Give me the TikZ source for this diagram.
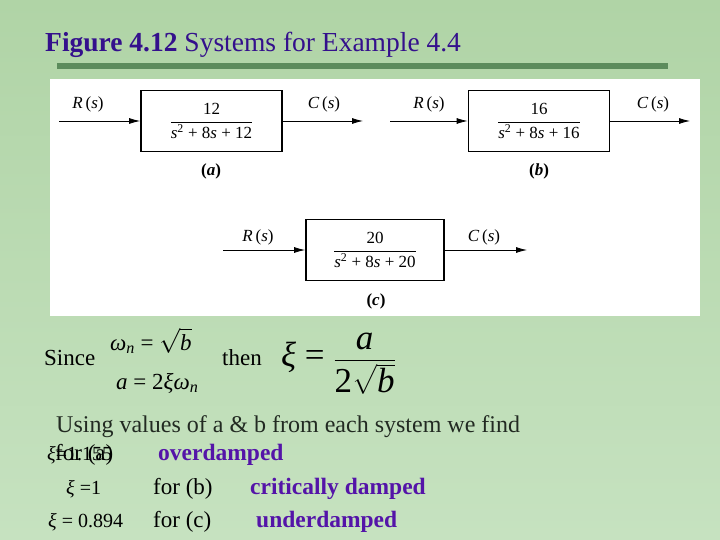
\documentclass[tikz,border=0pt]{standalone}
\usepackage{amsmath}
\usepackage{fontspec}
\setmainfont{Liberation Serif}
\usetikzlibrary{arrows.meta}
\definecolor{bgtop}{RGB}{176,212,166}
\definecolor{bgbot}{RGB}{198,226,192}
\definecolor{rulegreen}{RGB}{92,140,92}
\definecolor{titleblue}{RGB}{52,16,140}
\definecolor{damppurple}{RGB}{84,20,168}
\definecolor{textgray}{RGB}{34,42,34}
\newcommand{\iv}[1]{\textit{#1}}
\newcommand{\fs}[1]{\fontsize{#1}{#1}\selectfont}
\tikzset{
  blk/.style={draw, line width=1.7pt, minimum width=141pt, minimum height=61pt, inner sep=0pt, fill=white, font=\fs{17}},
  sig/.style={-{Latex[length=11pt,width=6pt]}, line width=0.8pt},
  lbl/.style={inner sep=0pt, font=\fs{17}},
  sublbl/.style={inner sep=0pt, font=\fs{17}\bfseries},
  txt/.style={anchor=base west, inner sep=0pt, text=textgray, font=\fs{23}},
  eqn/.style={anchor=base west, inner sep=0pt, font=\fs{23}},
  damp/.style={anchor=base west, inner sep=0pt, text=damppurple, font=\fs{23.5}\bfseries}
}
\begin{document}
\begin{tikzpicture}[x=1pt,y=-1pt]
  \shade[top color=bgtop, bottom color=bgbot] (0,0) rectangle (720,540);
  \useasboundingbox (0,0) rectangle (720,540);
  % title and rule
  \node[anchor=base west, inner sep=0pt, text=titleblue, font=\fs{27.5}] (title) at (45,52)
    {\textbf{Figure 4.12} Systems for Example 4.4};
  \draw[line width=6pt, rulegreen] (57,66) -- (668,66);
  \fill[white] (50,79) rectangle (700,316);
  % system (a)
  \node[blk] (ga) at (211.5,121)
    {$\dfrac{\mbox{12}}{\mbox{\iv{s}\textsuperscript{2} + 8\iv{s} + 12}}$};
  \coordinate (ina) at (59,121);
  \coordinate (outa) at (363,121);
  \draw[sig] (ina) -- (ga);
  \draw[sig] (ga) -- (outa);
  \node[lbl] (ra) at (88,104) {\iv{R}\,(\iv{s})};
  \node[lbl] (ca) at (324,104) {\iv{C}\,(\iv{s})};
  \node[sublbl] (capa) at (211,171) {(\iv{a})};
  % system (b)
  \node[blk] (gb) at (539,121)
    {$\dfrac{\mbox{16}}{\mbox{\iv{s}\textsuperscript{2} + 8\iv{s} + 16}}$};
  \coordinate (inb) at (390,121);
  \coordinate (outb) at (690,121);
  \draw[sig] (inb) -- (gb);
  \draw[sig] (gb) -- (outb);
  \node[lbl] (rb) at (429,104) {\iv{R}\,(\iv{s})};
  \node[lbl] (cb) at (653,104) {\iv{C}\,(\iv{s})};
  \node[sublbl] (capb) at (539,171) {(\iv{b})};
  % system (c)
  \node[blk, minimum width=138pt] (gc) at (375,250)
    {$\dfrac{\mbox{20}}{\mbox{\iv{s}\textsuperscript{2} + 8\iv{s} + 20}}$};
  \coordinate (inc) at (223,250);
  \coordinate (outc) at (527,250);
  \draw[sig] (inc) -- (gc);
  \draw[sig] (gc) -- (outc);
  \node[lbl] (rc) at (258,237) {\iv{R}\,(\iv{s})};
  \node[lbl] (cc) at (484,237) {\iv{C}\,(\iv{s})};
  \node[sublbl] (capc) at (376,301) {(\iv{c})};
  % relations
  \node[txt, text=black] (since) at (44,365) {Since};
  \node[eqn] (wn) at (110,350) {\iv{ω}\textsubscript{\iv{n}} = $\sqrt{\mbox{\iv{b}}}$};
  \node[eqn] (aeq) at (116,389) {\iv{a} = 2\iv{ξ}\iv{ω}\textsubscript{\iv{n}}};
  \node[txt, text=black] (then) at (222,365) {then};
  \node[anchor=west, inner sep=0pt, font=\fs{35}] (xi) at (281,364)
    {\iv{ξ} = $\dfrac{\mbox{\iv{a}}}{\mbox{2}\sqrt{\mbox{\iv{b}}}}$};
  \node[txt, font=\fs{24}] (using) at (56,432) {Using values of a \& b from each system we find};
  % results
  \node[eqn, font=\fs{20}] (xia) at (47,460) {\iv{ξ}=1.155};
  \node[txt, text=black] (fora) at (55,460) {for (a)};
  \node[damp] (overd) at (158,460) {overdamped};
  \node[eqn, font=\fs{20}] (xib) at (66,494) {\iv{ξ} =1};
  \node[txt, text=black] (forb) at (153,494) {for (b)};
  \node[damp] (critd) at (250,494) {critically damped};
  \node[eqn, font=\fs{20}] (xic) at (48,527) {\iv{ξ} = 0.894};
  \node[txt, text=black] (forc) at (153,527) {for (c)};
  \node[damp] (underd) at (256,527) {underdamped};
\end{tikzpicture}
\end{document}
